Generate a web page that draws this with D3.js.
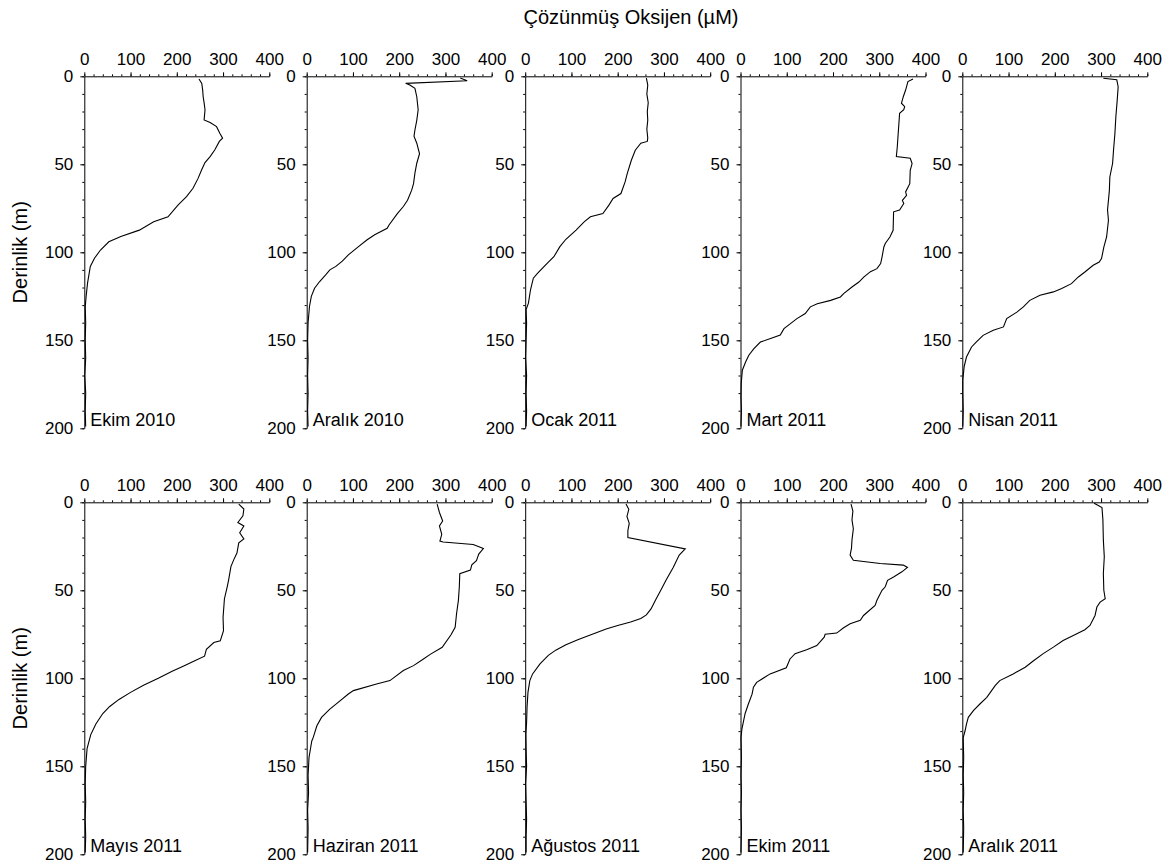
<!DOCTYPE html>
<html>
<head>
<meta charset="utf-8">
<script src="https://cdn.jsdelivr.net/npm/d3@7"></script>
<style>
    body { margin: 0; background: #fff; }
    text { fill: #000; }
</style>
</head>
<body>
<div id="container"><svg></svg></div>
<script>
let width = 1175;
let height = 867;
let fontFamily = "'Liberation Sans', Arial, sans-serif";

// panel titles
let panelNames = ['Ekim 2010', 'Aralık 2010', 'Ocak 2011', 'Mart 2011', 'Nisan 2011',
                  'Mayıs 2011', 'Haziran 2011', 'Ağustos 2011', 'Ekim 2011', 'Aralık 2011'];

// ticks
let oxTicks = [0, 100, 200, 300, 400];
let depthTicks = [0, 50, 100, 150, 200];

// depth (m) and dissolved oxygen (µM)
let ekim2010Depth = [1.5, 4, 8, 11.6, 15, 19, 22, 24.8, 26.3, 28.6, 32.4, 35.2, 37, 41.9, 45.6, 49, 53, 58, 63.6, 68.4, 73, 79.8, 82.6, 87.4, 91, 94, 98.7, 103.4, 108, 117.5, 125, 131, 140, 150, 160, 170, 180, 190, 199];
let ekim2010O2 = [248, 254, 256, 257, 259, 261, 260, 259, 272, 286, 293, 299, 292, 282, 272, 261, 254, 246, 235, 221, 203, 181, 150, 119, 79, 53, 35, 22, 13, 7, 4, 2, 3, 2, 3, 1, 3, 2, 3];

let aralik2010Depth = [1, 2.5, 4, 5, 6.8, 11.6, 19, 25, 30.5, 34, 38, 44, 49.4, 55, 61, 64.7, 70.4, 74, 78, 84.5, 86.4, 90, 93, 96.8, 101.5, 105, 108, 110, 112.8, 116.6, 120.4, 125, 130.8, 140, 150, 160, 170, 180, 190, 199];
let aralik2010O2 = [332, 347, 214, 223, 234, 238, 241, 238, 234, 232, 238, 244, 238, 234, 231, 227, 218, 209, 196, 178, 174, 147, 130, 112, 90, 77, 63, 50, 41, 28, 17, 10, 6, 3, 2, 3, 2, 3, 2, 3];

let ocak2011Depth = [1, 5, 10, 15, 20, 25, 30, 35, 37, 38, 42, 47.7, 55.3, 60, 66.6, 69.4, 73.2, 78, 79.8, 82.6, 87.4, 92.6, 96.8, 102.5, 106, 112, 114.7, 121.3, 128.9, 132.6, 140, 150, 160, 170, 180, 190, 199];
let ocak2011O2 = [262, 265, 263, 266, 264, 265, 263, 265, 264, 250, 238, 229.5, 220.6, 216, 207, 190, 181, 168, 141, 128, 110, 88, 75, 62, 48.5, 26.5, 17.6, 11.5, 7, 2, 3, 2, 1, 3, 2, 3, 2];

let mart2011Depth = [1.5, 3, 7.8, 11.6, 15.3, 17.2, 19, 21, 24.8, 32.4, 40, 45.6, 46.6, 49.6, 53.4, 61, 65.7, 67.6, 70.5, 72.3, 76, 77, 87.5, 91.3, 95, 97, 102.7, 106.4, 109.3, 111, 114, 116.9, 119.7, 123.5, 125.4, 127.3, 129.2, 131, 134.8, 137.7, 140.5, 143.4, 147, 149, 151, 154.7, 158.5, 162.3, 167, 174.6, 182, 190, 199];
let mart2011O2 = [373, 362, 357, 352, 348, 355, 353, 344, 343, 341, 339, 337, 367, 371, 367, 366, 357, 359, 350, 353, 344, 331, 330, 323, 313, 310, 306, 303, 295, 281, 267, 256, 241, 223, 216, 195, 166, 151, 140, 122, 108, 94, 86, 65, 43, 29, 18, 11, 4, 1.5, 1, 2, 1];

let nisan2011Depth = [1.1, 2, 5.9, 13.4, 23, 32.4, 41.9, 49.4, 57.2, 64.8, 76, 81.8, 91.3, 97, 103.6, 105.5, 107.4, 111.2, 114, 117.8, 120.6, 122.5, 124.4, 127.3, 131, 134, 137.7, 142.4, 144.3, 147.2, 151, 153.8, 159.5, 165, 172.7, 180, 190, 199];
let nisan2011O2 = [305, 334, 337, 335, 332, 330, 327, 325, 319, 318, 314, 316, 312, 306, 301, 296, 283, 265, 251, 236, 215, 197, 168, 146, 132, 118, 96, 89, 67, 45, 30, 20, 9, 4, 1, 1, 2, 1];

let mayis2011Depth = [1, 3.8, 7.7, 11.5, 13.5, 17.3, 20.8, 23, 28.8, 32.7, 36.5, 44.2, 48, 54.8, 65.4, 73, 78.7, 79.7, 83.5, 87.4, 89.9, 93, 96, 100, 104, 108, 112, 116, 120, 126, 132, 140, 150, 160, 170, 180, 190, 199];
let mayis2011O2 = [334, 345, 343, 332, 345, 336, 345, 334, 330, 323, 317, 312, 309, 303, 300, 301, 294, 280, 264, 260, 240, 215, 190, 160, 128, 100, 75, 55, 40, 25, 14, 6, 3, 2, 3, 2, 3, 2];

let haziran2011Depth = [1, 5.8, 10.6, 13.4, 18.2, 22, 22.6, 24, 26.3, 29.4, 33.2, 35.5, 38.5, 40.6, 48, 55.7, 63.3, 71, 75.3, 82.4, 86.4, 89.5, 92.8, 95.6, 101.3, 103.2, 107, 108.9, 113.7, 117.5, 122.2, 127, 133.7, 135.6, 145, 155, 165, 175, 185, 199];
let haziran2011O2 = [282, 287, 294, 287, 292, 288, 295, 360, 382, 372, 367, 357, 354, 331, 330, 328, 324, 321, 312, 293, 267, 250, 231, 209, 180, 151, 101, 90, 68, 50, 32, 22, 14, 11, 5, 3, 4, 2, 3, 2];

let agustos2011Depth = [1, 4, 8, 12, 16, 20, 26.5, 30, 37, 44, 49.5, 55, 60.6, 64, 66, 68, 70, 72, 75, 78, 81, 84, 87, 91.8, 97.5, 101.3, 108, 116.5, 125, 131.7, 140, 150, 160, 170, 180, 190, 199];
let agustos2011O2 = [218, 224, 220, 225, 222, 222, 346, 333, 320, 305, 294, 283, 272, 262, 250, 228, 200, 175, 145, 115, 88, 66, 50, 32, 16, 10, 6, 4, 3, 1.5, 2, 3, 1, 2, 3, 2, 2];

let ekim2011Depth = [1, 5, 10, 15, 21.5, 26, 30, 32.9, 34.8, 35.7, 37, 39.5, 42.4, 44.3, 48, 50, 55.7, 58.6, 64.3, 67, 69, 71.3, 74.3, 75, 76.6, 81.4, 83.8, 86, 89, 94, 97.5, 102.3, 105, 109, 114.6, 120, 128.9, 133.7, 145, 155, 165, 175, 185, 199];
let ekim2011O2 = [239, 243, 241, 244, 241, 240, 237, 244, 302, 352, 361, 349, 331, 318, 313, 306, 295, 291, 266, 259, 237, 223, 208, 183, 181, 165, 143, 118, 107, 99, 64, 35, 28, 25, 17, 10, 3, 1, 2, 1, 2, 1, 2, 1];

let aralik2011Depth = [0.5, 1.5, 3, 10, 21.5, 31, 40.5, 50, 54.8, 56.7, 59.5, 64.3, 70, 72.4, 75.7, 78.5, 82.3, 86, 90, 93.7, 97.5, 101.3, 104.2, 110.8, 114.6, 118.4, 122.2, 126, 129.8, 133.7, 145, 155, 165, 175, 185, 199];
let aralik2011O2 = [285, 292, 302, 304, 305, 307, 305, 306, 309, 298, 291, 287, 276, 265, 240, 218, 197, 175, 154, 136, 110, 81, 71, 53, 38, 24, 13, 9, 6, 2, 3, 2, 3, 2, 3, 2];

let profiles = [
    [ekim2010Depth, ekim2010O2], [aralik2010Depth, aralik2010O2], [ocak2011Depth, ocak2011O2],
    [mart2011Depth, mart2011O2], [nisan2011Depth, nisan2011O2],
    [mayis2011Depth, mayis2011O2], [haziran2011Depth, haziran2011O2], [agustos2011Depth, agustos2011O2],
    [ekim2011Depth, ekim2011O2], [aralik2011Depth, aralik2011O2]
];

// layout
let colLeft = [84.3, 306.7, 525.2, 740.5, 962.3];
let rowTop = [76.3, 502.3];
let panelW = 185;
let panelH = 352;

function draw_panel(svg, i) {
    let left = colLeft[i % 5];
    let top = rowTop[Math.floor(i / 5)];
    let x = d3.scaleLinear().domain([0, 400]).range([left, left + panelW]);
    let y = d3.scaleLinear().domain([0, 200]).range([top, top + panelH]);
    let g = svg.append('g');

    // minor ticks
    g.append('g')
        .attr('transform', `translate(0, ${top})`)
        .call(d3.axisTop(x).tickValues(d3.range(0, 401, 20)).tickSize(2).tickFormat(''))
        .call(a => a.select('.domain').remove());
    g.append('g')
        .attr('transform', `translate(${left}, 0)`)
        .call(d3.axisLeft(y).tickValues(d3.range(0, 201, 10)).tickSize(2).tickFormat(''))
        .call(a => a.select('.domain').remove());

    // x axis - oxygen on top
    g.append('g')
        .attr('transform', `translate(0, ${top})`)
        .call(d3.axisTop(x).tickValues(oxTicks).tickSizeInner(4).tickSizeOuter(0).tickPadding(7))
        .attr('font-family', fontFamily)
        .attr('font-size', '17px');

    // y axis - depth
    g.append('g')
        .attr('transform', `translate(${left}, 0)`)
        .call(d3.axisLeft(y).tickValues(depthTicks).tickSizeInner(4).tickSizeOuter(0).tickPadding(7))
        .attr('font-family', fontFamily)
        .attr('font-size', '17px');

    g.selectAll('.tick text').attr('fill', '#000');
    g.selectAll('line, path.domain').attr('stroke', '#000');

    // profile
    let depth = profiles[i][0];
    let o2 = profiles[i][1];
    let line = d3.line()
        .x(d => x(o2[d]))
        .y(d => y(depth[d]));
    g.append('path')
        .datum(d3.range(depth.length))
        .attr('d', line)
        .attr('fill', 'none')
        .attr('stroke', '#000')
        .attr('stroke-width', 1.1);

    // panel name
    g.append('text')
        .attr('x', left + 6)
        .attr('y', top + panelH - 2)
        .attr('font-family', fontFamily)
        .attr('font-size', '18px')
        .text(panelNames[i]);
}

function draw_main() {
    let svg = d3.select('#container')
        .select('svg')
        .attr('width', width)
        .attr('height', height);

    svg.append('text')
        .attr('x', 631)
        .attr('y', 24)
        .attr('text-anchor', 'middle')
        .attr('font-family', fontFamily)
        .attr('font-size', '20px')
        .text('Çözünmüş Oksijen (µM)');

    rowTop.forEach(t => {
        svg.append('text')
            .attr('transform', `translate(26.5, ${t + panelH / 2}) rotate(-90)`)
            .attr('text-anchor', 'middle')
            .attr('font-family', fontFamily)
            .attr('font-size', '20px')
            .text('Derinlik (m)');
    });

    panelNames.forEach((n, i) => draw_panel(svg, i));
}

draw_main();
</script>
</body>
</html>
